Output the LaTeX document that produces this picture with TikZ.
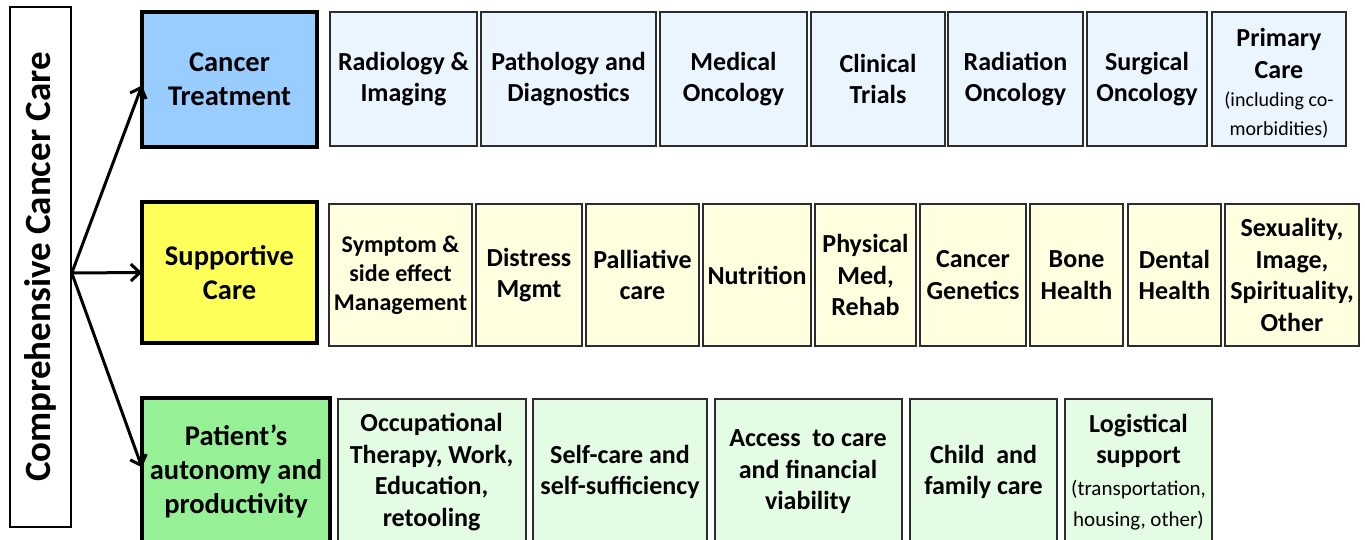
\documentclass[tikz,border=0pt]{standalone}
\usepackage{fontspec}
\setmainfont{Carlito}
\usetikzlibrary{arrows.meta}

\definecolor{catblue}{RGB}{153,204,255}
\definecolor{catyellow}{RGB}{255,255,90}
\definecolor{catgreen}{RGB}{150,240,150}
\definecolor{itemblue}{RGB}{234,245,255}
\definecolor{itemyellow}{RGB}{255,255,224}
\definecolor{itemgreen}{RGB}{228,252,228}
\definecolor{itemedge}{RGB}{45,45,45}

\tikzset{
  catbox/.style={draw=black, line width=3.2pt, inner sep=0pt, outer sep=0pt,
    align=center, font=\bfseries\fontsize{28.5}{34}\selectfont},
  itembox/.style={draw=itemedge, line width=2pt, inner sep=0pt, outer sep=0pt,
    align=center, font=\bfseries\fontsize{26}{31.5}\selectfont},
  size/.style 2 args={minimum width=#1pt, minimum height=#2pt},
  link/.style={line width=3pt, -{Straight Barb[length=9pt,width=17pt,line width=3pt]}}
}

\begin{document}
\begin{tikzpicture}[x=1pt, y=-1pt]
\useasboundingbox (0,0) rectangle (1365,540);
\clip (0,0) rectangle (1365,540);

% overall heading box
\node[draw=black, line width=1.6pt, rotate=90, size={520}{61}, inner sep=0pt,
      font=\bfseries\fontsize{37}{44}\selectfont] (cc) at (40.5,267) {Comprehensive Cancer Care};
\coordinate (hub) at ([yshift=-6pt]cc.south);

% the three categories
\node[catbox, fill=catblue,   size={175}{135}] (treat)   at (229.5,79.5)  {Cancer\\Treatment};
\node[catbox, fill=catyellow, size={175}{141}] (support) at (229.5,272.5) {Supportive\\Care};
\node[catbox, fill=catgreen,  size={188}{147}] (patient) at (236,471.5)   {Patient’s\\autonomy and\\productivity};

\draw[link] (hub) -- ([yshift=-6pt]treat.west);
\draw[link] (hub) -- (support.west);
\draw[link] (hub) -- ([yshift=4pt]patient.west);

% cancer treatment row
\begin{scope}[every node/.style={itembox, fill=itemblue}]
\node[size={147}{134}] (t1) at (403.5,79)  {Radiology \&\\Imaging};
\node[size={175}{134}] (t2) at (568.5,79)  {Pathology and\\Diagnostics};
\node[size={147}{134}] (t3) at (733.5,79)  {Medical\\Oncology};
\node[size={134}{134}] (t4) at (878,79)    {Clinical\\Trials};
\node[size={135}{134}] (t5) at (1015.5,79) {Radiation\\Oncology};
\node[size={120}{134}] (t6) at (1147,79)   {Surgical\\Oncology};
\node[size={134}{134}] (t7) at (1279,79)   {\rule{0pt}{27pt}Primary\\Care\\[-3pt]{\mdseries\fontsize{20}{24}\selectfont (including co-}\\[-3pt]{\mdseries\fontsize{20}{24}\selectfont morbidities)}};
\end{scope}

% supportive care row
\begin{scope}[every node/.style={itembox, fill=itemyellow}]
\node[size={143}{142}, font=\bfseries\fontsize{24}{29}\selectfont] (s1) at (400.5,275) {Symptom \&\\side effect\\Management};
\node[size={106}{142}] (s2) at (529,275)    {Distress\\Mgmt};
\node[size={113}{142}] (s3) at (642.5,275)  {Palliative\\care};
\node[size={108}{142}] (s4) at (757,275)    {Nutrition};
\node[size={101}{142}] (s5) at (865.5,275)  {Physical\\Med,\\Rehab};
\node[size={106}{142}] (s6) at (973,275)    {Cancer\\Genetics};
\node[size={93}{142}]  (s7) at (1076.5,275) {Bone\\Health};
\node[size={93}{142}]  (s8) at (1174.5,275) {Dental\\Health};
\node[size={134}{142}] (s9) at (1292,275)   {Sexuality,\\Image,\\Spirituality,\\Other};
\end{scope}

% autonomy and productivity row
\begin{scope}[every node/.style={itembox, fill=itemgreen}]
\node[size={188}{146}] (p1) at (431.6,472)  {Occupational\\Therapy, Work,\\Education,\\retooling};
\node[size={174}{146}] (p2) at (620,472)    {Self-care and\\self-sufficiency};
\node[size={187}{146}] (p3) at (808,472)    {Access~ to care\\and financial\\viability};
\node[size={147}{146}] (p4) at (983.5,472)  {Child~ and\\family care};
\node[size={147}{146}] (p5) at (1138.5,472) {Logistical\\support\\{\mdseries\fontsize{21}{25}\selectfont (transportation,}\\{\mdseries\fontsize{21}{25}\selectfont housing, other)}};
\end{scope}
\end{tikzpicture}
\end{document}
